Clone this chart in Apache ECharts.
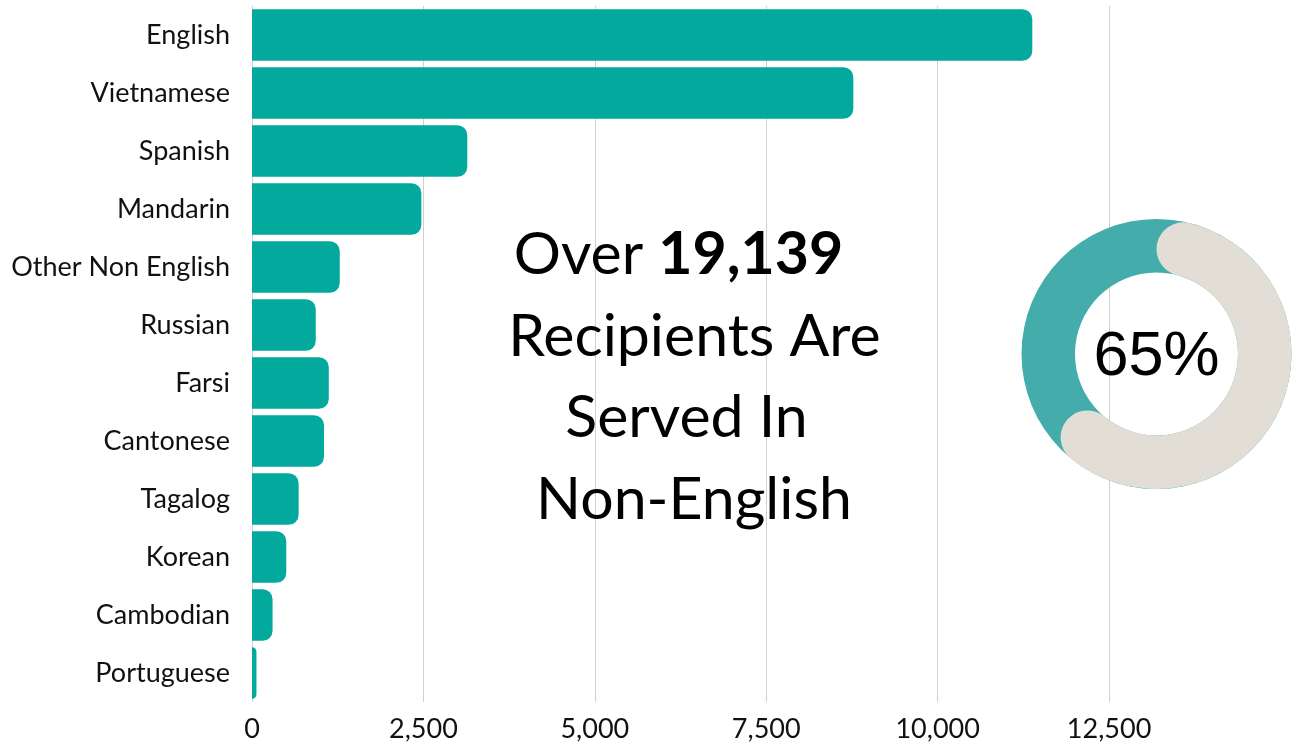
<!DOCTYPE html>
<html>
<head>
<meta charset="utf-8">
<title>Recipients by Language</title>
<script src="https://cdn.jsdelivr.net/npm/echarts@6/dist/echarts.min.js"></script>
<style>
  html, body { margin: 0; padding: 0; background: #ffffff; }
  #chart { width: 1297px; height: 745px; }
</style>
</head>
<body>
<div id="chart"></div>
<script>
// Recipients served, by language
const categories = ['English', 'Vietnamese', 'Spanish', 'Mandarin', 'Other Non English', 'Russian',
  'Farsi', 'Cantonese', 'Tagalog', 'Korean', 'Cambodian', 'Portuguese'];
const recipients = [11380, 8770, 3140, 2470, 1280, 930, 1120, 1050, 680, 500, 300, 65];

// Value axis ticks
const axisMin = 0;
const axisMax = 15000;
const axisInterval = 2500;

// Headline and share served in a non-English language
const headlineCount = '19,139';
const nonEnglishShare = 65;

const BAR = '#03A99D';
const RING_BASE = '#44ADAC';
const RING_FILL = '#E3DED5';
const TEXT = '#111111';
const FONT = 'Lato';

const chart = echarts.init(document.getElementById('chart'), null, { renderer: 'canvas' });

const option = {
  animation: false,
  backgroundColor: '#ffffff',
  grid: { left: 252, right: 16.5, top: 6, bottom: 43, containLabel: false },
  xAxis: {
    type: 'value',
    min: axisMin,
    max: axisMax,
    interval: axisInterval,
    axisLine: { show: false },
    axisTick: { show: false },
    splitLine: { show: true, showMaxLine: false, lineStyle: { color: '#D0D0D0', width: 1 } },
    axisLabel: {
      showMaxLabel: false,
      margin: 14,
      fontFamily: FONT,
      fontSize: 27,
      color: TEXT,
      formatter: v => v.toLocaleString('en-US')
    }
  },
  yAxis: {
    type: 'category',
    data: categories,
    inverse: true,
    axisLine: { show: false },
    axisTick: { show: false },
    splitLine: { show: false },
    axisLabel: { margin: 22, fontFamily: FONT, fontSize: 27, color: TEXT }
  },
  series: [
    {
      type: 'bar',
      data: recipients,
      barCategoryGap: '11%',
      itemStyle: { color: BAR, borderRadius: [0, 10, 10, 0] },
      emphasis: { disabled: true },
      silent: true,
      z: 2
    },
    {
      // full ring underneath
      type: 'pie',
      center: [1156.5, 354],
      radius: [81.5, 135],
      startAngle: 90,
      silent: true,
      label: { show: false },
      labelLine: { show: false },
      emphasis: { disabled: true },
      data: [{ value: 100, itemStyle: { color: RING_BASE } }],
      z: 3
    },
    {
      // share arc with rounded ends
      type: 'pie',
      center: [1156.5, 354],
      radius: [81.5, 135],
      startAngle: 90,
      clockwise: true,
      silent: true,
      label: { show: false },
      labelLine: { show: false },
      emphasis: { disabled: true },
      data: [
        { value: nonEnglishShare, itemStyle: { color: RING_FILL, borderRadius: 27 } },
        { value: 100 - nonEnglishShare, itemStyle: { color: 'rgba(0,0,0,0)' } }
      ],
      z: 4
    }
  ],
  graphic: [
    {
      type: 'text', x: 678.5, y: 225, z: 10,
      style: {
        text: '{r|Over }{b|' + headlineCount + '}',
        align: 'center', verticalAlign: 'top',
        rich: {
          r: { fontFamily: FONT, fontSize: 59, fontWeight: 'normal', fill: '#000' },
          b: { fontFamily: FONT, fontSize: 59, fontWeight: 'bold', fill: '#000' }
        }
      }
    },
    {
      type: 'text', x: 694.5, y: 307, z: 10,
      style: { text: 'Recipients Are', font: '59px Lato', fill: '#000', align: 'center', verticalAlign: 'top' }
    },
    {
      type: 'text', x: 686.5, y: 388, z: 10,
      style: { text: 'Served In', font: '59px Lato', fill: '#000', align: 'center', verticalAlign: 'top' }
    },
    {
      type: 'text', x: 694, y: 470, z: 10,
      style: { text: 'Non-English', font: '59px Lato', fill: '#000', align: 'center', verticalAlign: 'top' }
    },
    {
      type: 'text', x: 1156.5, y: 326, z: 10,
      style: { text: nonEnglishShare + '%', font: '63px "Liberation Sans"', fill: '#000', align: 'center', verticalAlign: 'top' }
    }
  ]
};

chart.setOption(option);
</script>
</body>
</html>
